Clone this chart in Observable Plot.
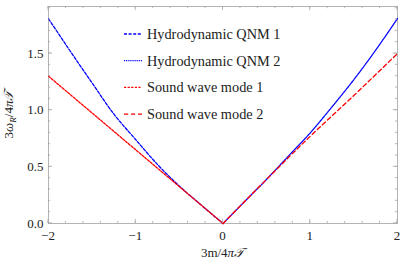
<!DOCTYPE html>
<html><head><meta charset="utf-8">
<script src="https://cdn.jsdelivr.net/npm/d3@7"></script>
<script src="https://cdn.jsdelivr.net/npm/@observablehq/plot@0.6"></script>
<style>
body{margin:0;background:#fff}
#wrap{position:relative;width:409px;height:268px;overflow:hidden}
#wrap svg{font-family:"Liberation Serif","Times New Roman",serif}
</style>
</head><body><div id="wrap"></div>
<script>
// ---- data ----
const qnm1X = [-2, -1.75, -1.5, -1.25, -1, -0.75, -0.5, -0.25, 0];
const qnm1Y = [1.807, 1.52, 1.24, 0.965, 0.74, 0.52, 0.33, 0.163, 0];
const qnm2X = [0, 0.25, 0.5, 0.75, 1, 1.25, 1.5, 1.75, 2];
const qnm2Y = [0, 0.196, 0.39, 0.595, 0.80, 1.03, 1.27, 1.53, 1.81];
const sound1X = [-2, -1.5, -1, -0.5, 0];
const sound1Y = [1.30, 0.975, 0.65, 0.325, 0];
const sound2X = [0, 0.5, 1, 1.5, 2];
const sound2Y = [0, 0.39, 0.77, 1.13, 1.50];

const seriesNames = ["Hydrodynamic QNM 1", "Hydrodynamic QNM 2", "Sound wave mode 1", "Sound wave mode 2"];
const xTicks = [-2, -1, 0, 1, 2];
const xTickLabels = ["\u22122", "\u22121", "0", "1", "2"];
const yTicks = [0, 0.5, 1, 1.5];
const yTickLabels = ["0.0", "0.5", "1.0", "1.5"];
const xMinor = d3.range(-20, 21, 2).map(v => v / 10);
const yMinor = d3.range(0, 20, 1).map(v => v / 10);

// ---- styles ----
const colors = ["#0000ff", "#0000ff", "#ff0000", "#ff0000"];
const dashes = ["3,1.6", "1.2,0.9", "2.2,1.4", "4.2,2.8"];
const W = 409, H = 268;

const zip = (xs, ys) => xs.map((x, i) => ({x, y: ys[i]}));
const series = [zip(qnm1X, qnm1Y), zip(qnm2X, qnm2Y), zip(sound1X, sound1Y), zip(sound2X, sound2Y)];

const plot = Plot.plot({
  width: W, height: H,
  marginLeft: 48, marginRight: 12, marginTop: 6, marginBottom: 45,
  x: {domain: [-2, 2]},
  y: {domain: [0, 1.915]},
  axis: null,
  marks: [
    Plot.frame({stroke: "#b4b4b4", strokeWidth: 1}),
    ...series.map((d, i) => Plot.line(d, {x: "x", y: "y", stroke: colors[i], strokeWidth: 1.3, strokeDasharray: dashes[i], curve: "monotone-x"}))
  ]
});
document.getElementById("wrap").appendChild(plot);

const sx = plot.scale("x"), sy = plot.scale("y");
const [x0, x1] = sx.range, [y0, y1] = sy.range; // y0 bottom, y1 top
const svg = d3.select(plot);
const g = svg.append("g").attr("stroke", "#a8a8a8").attr("stroke-width", 0.8);
function tickX(v, len) {
  const px = sx.apply(v);
  g.append("line").attr("x1", px).attr("x2", px).attr("y1", y0).attr("y2", y0 - len);
  g.append("line").attr("x1", px).attr("x2", px).attr("y1", y1).attr("y2", y1 + len);
}
function tickY(v, len) {
  const py = sy.apply(v);
  g.append("line").attr("y1", py).attr("y2", py).attr("x1", x0).attr("x2", x0 + len);
  g.append("line").attr("y1", py).attr("y2", py).attr("x1", x1).attr("x2", x1 - len);
}
xMinor.forEach(v => tickX(v, 2.2));
yMinor.forEach(v => tickY(v, 2.2));
xTicks.forEach(v => tickX(v, 4.2));
yTicks.forEach(v => tickY(v, 4.2));

const lab = svg.append("g").attr("fill", "#222").attr("font-size", 13);
xTicks.forEach((v, i) => lab.append("text").attr("x", sx.apply(v)).attr("y", y0 + 16.5).attr("text-anchor", "middle").text(xTickLabels[i]));
yTicks.forEach((v, i) => lab.append("text").attr("x", x0 - 4.5).attr("y", sy.apply(v) + 4.5).attr("text-anchor", "end").text(yTickLabels[i]));

// axis titles
const xl = lab.append("text").attr("x", (x0 + x1) / 2).attr("y", y0 + 34).attr("text-anchor", "middle");
xl.append("tspan").text("3m/4");
xl.append("tspan").attr("font-style", "italic").text("\u03c0\ud835\udcaf");
const yl = lab.append("text").attr("transform", `translate(13,${(y0 + y1) / 2}) rotate(-90)`).attr("text-anchor", "middle");
yl.append("tspan").text("3");
yl.append("tspan").attr("font-style", "italic").text("\u03c9");
yl.append("tspan").attr("font-style", "italic").attr("font-size", 9).attr("dy", 3).text("R");
yl.append("tspan").attr("dy", -3).text("/4");
yl.append("tspan").attr("font-style", "italic").text("\u03c0\ud835\udcaf");

// legend
const leg = svg.append("g").attr("text-anchor", "start");
seriesNames.forEach((name, i) => {
  const yy = 34 + i * 26.7;
  leg.append("line").attr("x1", 124).attr("x2", 142).attr("y1", yy).attr("y2", yy)
    .attr("stroke", colors[i]).attr("stroke-width", 1.3).attr("stroke-dasharray", dashes[i]);
  leg.append("text").attr("x", 147).attr("y", yy + 5).attr("font-size", 14.3).attr("fill", "#222")
    .attr("text-anchor", "start").text(name);
});
</script>
</body></html>
